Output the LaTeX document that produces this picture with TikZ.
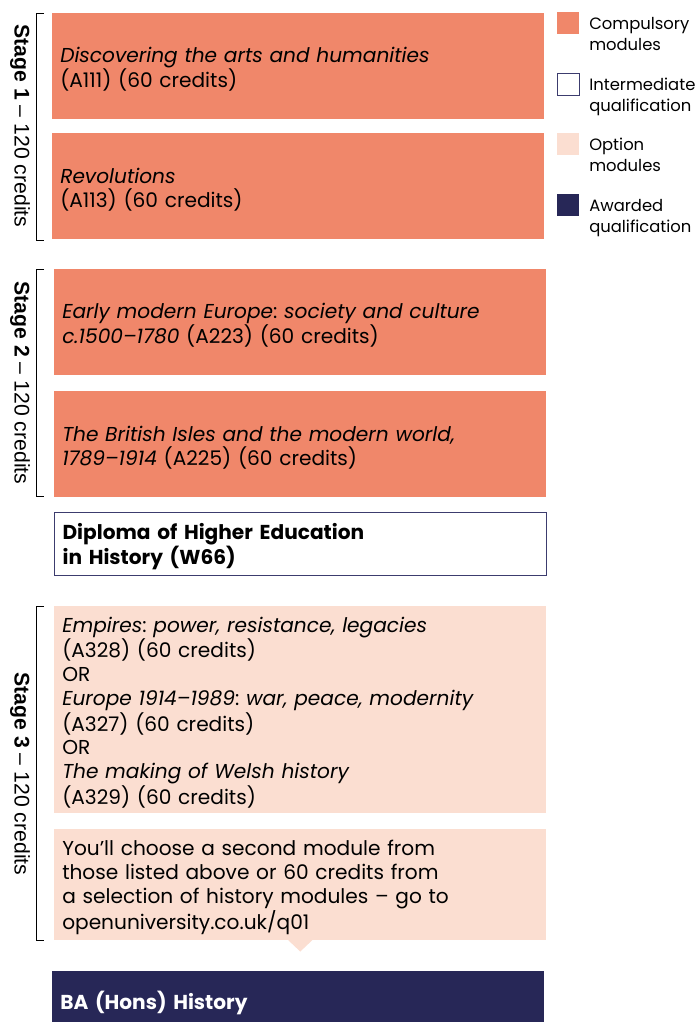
\documentclass[tikz,border=0pt]{standalone}
\usepackage{fontspec}
\setmainfont{Poppins}
\newfontfamily\stagefont{Liberation Sans}
\usetikzlibrary{positioning}

\definecolor{compulsory}{HTML}{F0876A}
\definecolor{optionmod}{HTML}{FBDED1}
\definecolor{awarded}{HTML}{272757}
\definecolor{interline}{HTML}{3C3C6E}

\frenchspacing
\begin{document}
\begin{tikzpicture}[
    x=0.75pt, y=-0.75pt,
    module/.style={anchor=north west, inner xsep=6pt, inner ysep=0pt,
        minimum width=369pt, text width=357pt, align=left,
        font=\fontsize{15.1}{17.9}\selectfont,
        execute at begin node={\rule{0pt}{16pt}}},
    compbox/.style={module, fill=compulsory, minimum height=79.5pt},
    optbox/.style={module, fill=optionmod},
    interbox/.style={module, fill=white, draw=interline, line width=0.9pt},
    awardbox/.style={module, fill=awarded, text=white},
    stagelabel/.style={rotate=-90, font=\stagefont\fontsize{15.9}{18}\selectfont},
    keybox/.style={anchor=north west, minimum size=16.5pt, inner sep=0pt},
    keytext/.style={anchor=north west, inner sep=0pt, align=left,
        font=\fontsize{12.3}{15.75}\selectfont}
]
\clip (0,0) rectangle (694,1022);
\useasboundingbox (0,0) rectangle (694,1022);

% -- Stage 1 --
\node[compbox] (arts) at (52,13) {\textit{Discovering the arts and humanities}\\(A111) (60 credits)};
\node[compbox] (revolutions) at (52,133) {\textit{Revolutions}\\(A113) (60 credits)};

% -- Stage 2 --
\node[compbox] (earlyModern) at (54,269) {\textit{Early modern Europe}: \textit{society and culture}\\\textit{c.1500–1780} (A223) (60 credits)};
\node[compbox] (britishIsles) at (54,391) {\textit{The British Isles and the modern world,}\\\textit{1789–1914} (A225) (60 credits)};
\node[interbox, minimum height=47pt] (diploma) at (54,512) {\textbf{Diploma of Higher Education}\\\textbf{in History (W66)}};

% -- Stage 3 --
\node[optbox, minimum height=155pt] (options) at (54,606) {\textit{Empires}: \textit{power, resistance, legacies}\\(A328) (60 credits)\\OR\\\textit{Europe 1914–1989}: \textit{war, peace, modernity}\\(A327) (60 credits)\\OR\\\textit{The making of Welsh history}\\(A329) (60 credits)};
\node[optbox, minimum height=83pt] (second) at (54,829) {You’ll choose a second module from\\those listed above or 60 credits from\\a selection of history modules – go to\\openuniversity.co.uk/q01};
\fill[optionmod] ([xshift=-9pt]second.south) -- ([yshift=-8.5pt]second.south) -- ([xshift=9pt]second.south) -- cycle;
\node[awardbox, minimum height=45pt] (hons) at (52,971) {\textbf{BA (Hons) History}};

% -- Stage brackets and labels --
\draw[semithick] (44,13) -| (36,240) -- (44,240);
\node[stagelabel] (stageOne) at (20,126) {\textbf{Stage 1} – 120 credits};
\draw[semithick] (44,269) -| (36,496) -- (44,496);
\node[stagelabel] (stageTwo) at (20,383) {\textbf{Stage 2} – 120 credits};
\draw[semithick] (44,606) -| (36,940) -- (44,940);
\node[stagelabel] (stageThree) at (20,774) {\textbf{Stage 3} – 120 credits};

% -- Key --
\node[keybox, fill=compulsory] (keyComp) at (557,12) {};
\node[keytext] (keyCompText) at (589,17) {Compulsory\\modules};
\node[keybox, fill=white, draw=interline, line width=0.9pt] (keyInter) at (557,73) {};
\node[keytext] (keyInterText) at (589,78) {Intermediate\\qualification};
\node[keybox, fill=optionmod] (keyOpt) at (557,133) {};
\node[keytext] (keyOptText) at (589,138) {Option\\modules};
\node[keybox, fill=awarded] (keyAward) at (557,194) {};
\node[keytext] (keyAwardText) at (589,199) {Awarded\\qualification};

\end{tikzpicture}
\end{document}
